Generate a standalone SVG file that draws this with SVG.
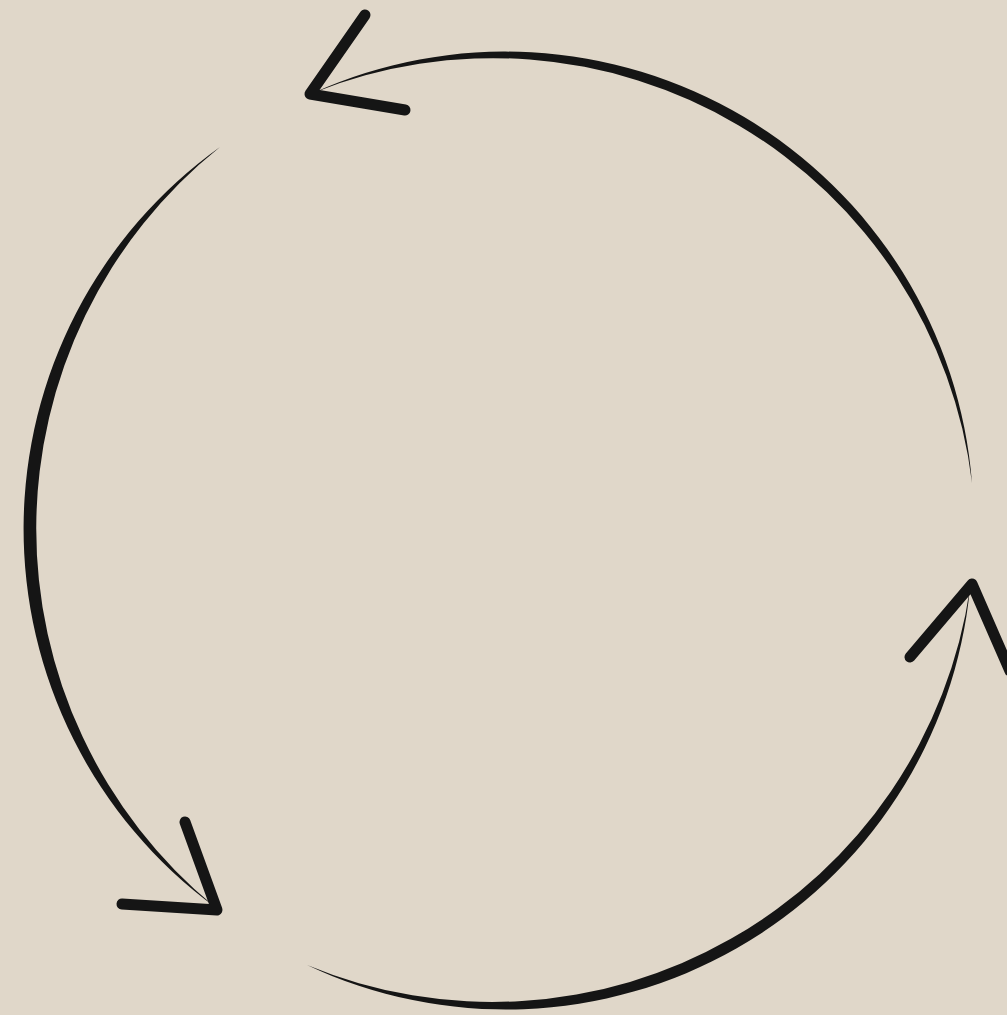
<svg xmlns="http://www.w3.org/2000/svg" width="1007" height="1015" viewBox="0 0 1007 1015">
  <style>
    .arc { fill: #151515; stroke: none; }
    .head { fill: none; stroke: #151515; stroke-width: 11; stroke-linecap: round; stroke-linejoin: round; }
  </style>
  <rect width="1007" height="1015" fill="#E0D7C9"/>
  <g id="connectors">
    <g id="arrow-top">
      <path class="arc" d="M972,483 A468,468 0 0 0 313,93 A482.4,482.4 0 0 1 972,483 Z"/>
      <polyline class="head" points="365,15 310,94 405,110"/>
    </g>
    <g id="arrow-left">
      <path class="arc" d="M220,147 A469.3,469.3 0 0 0 215,907 A489,489 0 0 1 220,147 Z"/>
      <polyline class="head" points="185,822 217,910 122,904"/>
    </g>
    <g id="arrow-right">
      <path class="arc" d="M307,965 A466.4,466.4 0 0 0 970,588 A482.7,482.7 0 0 1 307,965 Z"/>
      <polyline class="head" points="910,657 972,584 1010,671"/>
    </g>
  </g>
</svg>
